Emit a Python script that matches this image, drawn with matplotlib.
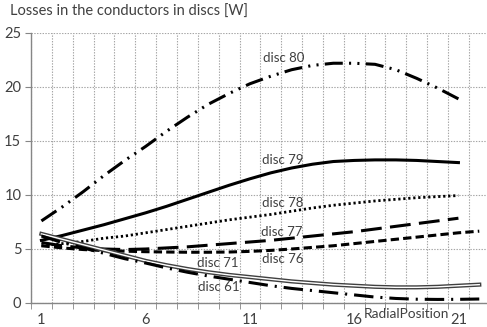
import matplotlib
matplotlib.use("Agg")
import matplotlib.pyplot as plt
from matplotlib.ticker import MultipleLocator, FixedLocator

plt.rcParams['font.family'] = ['Lato', 'DejaVu Sans']
plt.rcParams['lines.scale_dashes'] = False

# Datos (posicion radial 1..22)
pos21 = list(range(1, 22))
pos22 = list(range(1, 23))

disc80 = [7.6, 8.9, 10.3, 11.8, 13.2, 14.5, 15.9, 17.2, 18.4, 19.4, 20.3,
          21.0, 21.6, 22.0, 22.2, 22.2, 22.1, 21.6, 20.8, 19.9, 18.9]
disc79 = [5.8, 6.25, 6.75, 7.25, 7.8, 8.35, 8.95, 9.6, 10.25, 10.9, 11.5,
          12.05, 12.5, 12.85, 13.1, 13.2, 13.25, 13.25, 13.2, 13.1, 13.0]
disc78 = [5.3, 5.5, 5.7, 6.0, 6.2, 6.5, 6.8, 7.1, 7.4, 7.7, 7.95,
          8.2, 8.5, 8.8, 9.05, 9.25, 9.45, 9.6, 9.75, 9.85, 9.95]
disc77 = [5.6, 5.3, 5.1, 5.0, 4.95, 5.0, 5.1, 5.2, 5.35, 5.5, 5.65,
          5.8, 6.0, 6.2, 6.4, 6.6, 6.85, 7.1, 7.35, 7.6, 7.85]
disc76 = [5.3, 5.1, 4.95, 4.85, 4.8, 4.75, 4.72, 4.7, 4.7, 4.72, 4.78,
          4.87, 5.0, 5.15, 5.3, 5.5, 5.7, 5.9, 6.1, 6.3, 6.5, 6.65]
disc71 = [6.4, 5.9, 5.4, 4.9, 4.4, 3.9, 3.5, 3.15, 2.85, 2.6, 2.4,
          2.2, 2.0, 1.85, 1.7, 1.6, 1.5, 1.45, 1.45, 1.5, 1.6, 1.7]
disc61 = [6.2, 5.6, 5.1, 4.6, 4.1, 3.7, 3.25, 2.85, 2.5, 2.2, 1.9,
          1.6, 1.35, 1.15, 0.95, 0.75, 0.55, 0.42, 0.35, 0.33, 0.34, 0.37]

etiquetas = ["disc 80", "disc 79", "disc 78", "disc 77", "disc 76", "disc 71", "disc 61"]
pos_etiquetas = [(11.62, 22.7), (11.58, 13.2), (11.58, 9.25), (11.55, 6.55),
                 (11.58, 4.05), (8.45, 3.7), (8.5, 1.45)]

texto = '#404040'
eje = '#868686'

fig = plt.figure(figsize=(4.87, 3.27), dpi=100)
ax = fig.add_axes([31 / 487, 1 - 303 / 327, 1 - 31 / 487, 270 / 327])

ax.plot(pos21, disc80, color='black', lw=2.2, dashes=(13, 4.5, 1.5, 4.5, 1.5, 4.5))
ax.plot(pos21, disc79, color='black', lw=2.2)
ax.plot(pos21, disc78, color='black', lw=2.0, dashes=(1.6, 2.0))
ax.plot(pos21, disc77, color='black', lw=2.2, dashes=(15, 6))
ax.plot(pos22, disc76, color='black', lw=2.2, dashes=(6, 3))
ax.plot(pos22, disc71, color='#404040', lw=3.0)
ax.plot(pos22, disc71, color='white', lw=1.0)
ax.plot(pos22, disc61, color='black', lw=2.2, dashes=(14, 5, 1.5, 5))

for txt, (x, y) in zip(etiquetas, pos_etiquetas):
    ax.text(x, y, txt, fontsize=9.5, color=texto, ha='left', va='center')

ax.set_xlim(0.5, 0.5 + 456 / 20.85)
ax.set_ylim(0, 25)

ax.xaxis.set_major_locator(FixedLocator([1, 6, 11, 16, 21]))
ax.xaxis.set_minor_locator(FixedLocator([i + 0.5 for i in range(0, 23)]))
ax.yaxis.set_major_locator(MultipleLocator(5))

ax.tick_params(axis='x', which='major', length=0, pad=7, labelsize=10.5, labelcolor=texto)
ax.tick_params(axis='x', which='minor', length=4, color=eje, direction='out')
ax.tick_params(axis='y', which='major', length=4, color=eje, labelsize=10.5,
               labelcolor=texto, pad=3)

ax.grid(True, axis='x', which='minor', color='#a6a6a6', linestyle=(0, (1, 1)), lw=0.8)
ax.grid(True, axis='y', which='major', color='#a6a6a6', linestyle=(0, (1, 1)), lw=0.8)
ax.set_axisbelow(True)

for s in ['top', 'right']:
    ax.spines[s].set_visible(False)
for s in ['left', 'bottom']:
    ax.spines[s].set_color(eje)
    ax.spines[s].set_linewidth(1.0)

fig.text(10 / 487, 1 - 12 / 327, "Losses in the conductors in discs [W]",
         fontsize=10.5, color=texto, ha='left', va='center')
fig.text(406 / 487, 1 - 314 / 327, "RadialPosition",
         fontsize=9.8, color=texto, ha='center', va='center')

fig.savefig("out.png", dpi=100)
